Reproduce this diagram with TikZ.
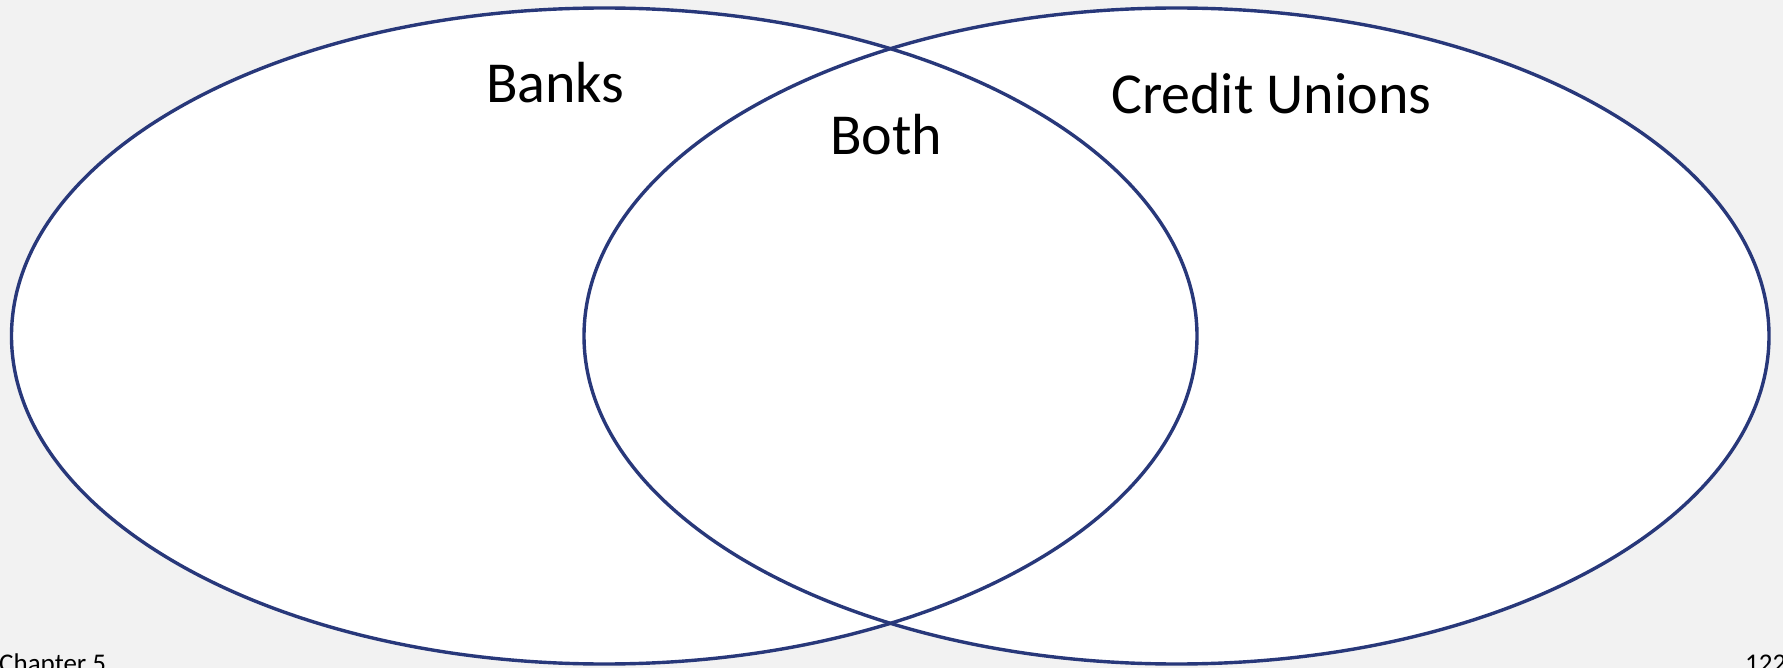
\documentclass[tikz,border=0pt]{standalone}
\usepackage{fontspec}
\setmainfont{Carlito}
\usetikzlibrary{shapes.geometric}
\definecolor{bgc}{RGB}{242,242,242}
\definecolor{edgec}{RGB}{40,56,122}
\tikzset{
  setoval/.style={ellipse, draw=edgec, line width=3.4pt, inner sep=0pt, outer sep=0pt},
  biglabel/.style={anchor=base west, inner sep=0pt, font=\fontsize{58}{60}\selectfont, text=black},
  smalllabel/.style={anchor=base west, inner sep=0pt, font=\fontsize{27}{30}\selectfont, text=black}
}
\begin{document}
\begin{tikzpicture}[x=1pt,y=-1pt]
\useasboundingbox (0,0) rectangle (1783,668);
\fill[bgc] (0,0) rectangle (1783,668);
\fill[white] (604.25,336) ellipse [x radius=592.75, y radius=328];
\fill[white] (1176.5,336) ellipse [x radius=592.5, y radius=328];
\node[setoval, minimum width=1185.5pt, minimum height=656pt] (banks) at (604.25,336) {};
\node[setoval, minimum width=1185pt, minimum height=656pt] (cu) at (1176.5,336) {};
\node[biglabel] (lbanks) at (486,103) {Banks};
\node[biglabel] (lboth) at (830,155) {Both};
\node[biglabel] (lcu) at (1111,114) {Credit Unions};
\node[smalllabel] (chap) at (-1,672) {Chapter 5};
\node[smalllabel] (page) at (1745,672) {122};
\end{tikzpicture}
\end{document}
